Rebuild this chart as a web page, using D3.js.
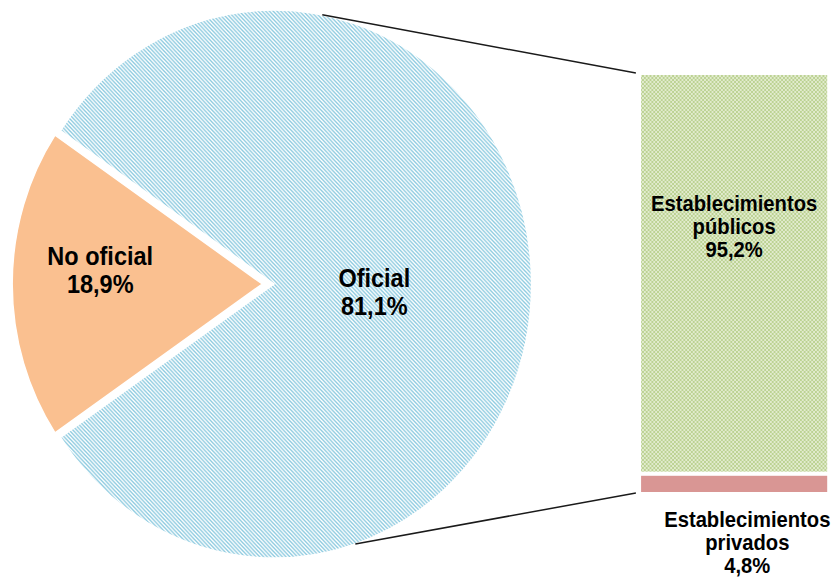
<!DOCTYPE html>
<html>
<head>
<meta charset="utf-8">
<script src="https://d3js.org/d3.v7.min.js"></script>
<style>
	body { margin: 0; background: #fff; }
	text { font-family: "Liberation Sans", Arial, sans-serif; font-weight: bold; fill: #000; }
</style>
</head>
<body>
<div id="my_dataviz"></div>
<script>
// pie data
const pieLabels = ["Oficial", "No oficial"];
const pieValues = [81.1, 18.9];
const pieTexts = ["81,1%", "18,9%"];

// bar data (split of "Oficial")
const barLabels = ["Establecimientos públicos", "Establecimientos privados"];
const barValues = [95.2, 4.8];
const barTexts = ["95,2%", "4,8%"];

// dimensions
const width = 833, height = 581;
const squash = 0.94; // the picture is a bit narrower than tall

const svg = d3.select("#my_dataviz")
	.append("svg")
	.attr("width", width)
	.attr("height", height);

// patterns
const defs = svg.append("defs");
const stripes = defs.append("pattern")
	.attr("id", "stripes")
	.attr("patternUnits", "userSpaceOnUse")
	.attr("width", 4)
	.attr("height", 4);
stripes.append("rect").attr("width", 4).attr("height", 4).attr("fill", "#fff");
stripes.append("path")
	.attr("d", "M-1,-1L5,5M-1,3L1,5M3,-1L5,1")
	.attr("stroke", "#8ecbe0")
	.attr("stroke-width", 1.4);

const checker = defs.append("pattern")
	.attr("id", "checker")
	.attr("patternUnits", "userSpaceOnUse")
	.attr("width", 4)
	.attr("height", 4);
checker.append("rect").attr("width", 4).attr("height", 4).attr("fill", "#e1ebcd");
checker.append("path")
	.attr("d", "M0,0L4,4M4,0L0,4")
	.attr("stroke", "#b3cb84")
	.attr("stroke-width", 0.8);

const root = svg.append("g")
	.attr("transform", `scale(${squash},1)`);

// pie geometry
const cx = 291.5, cy = 284, radius = 274;
const fills = ["url(#stripes)", "#fac090"];
const sliceRadius = [radius, 266];
const explode = [0, 12.5];
const labelPos = [[94.3, 107], [274.8, 173]]; // angle (deg), distance
const lineH = 28;

const a0 = 2 * Math.PI * (0.75 - (pieValues[0] + pieValues[1] / 2) / 100);
const pie = d3.pie().sort(null).startAngle(a0).endAngle(a0 + 2 * Math.PI);
const arcs = pie(pieValues);

const pieG = root.append("g")
	.attr("transform", `translate(${cx},${cy})`);

arcs.forEach(function (d, i) {
	const mid = (d.startAngle + d.endAngle) / 2;
	const ox = Math.sin(mid) * explode[i], oy = -Math.cos(mid) * explode[i];
	const arc = d3.arc().innerRadius(0).outerRadius(sliceRadius[i]);
	const g = pieG.append("g").attr("transform", `translate(${ox},${oy})`);
	g.append("path")
		.attr("d", arc(d))
		.attr("fill", fills[i])
		.attr("stroke", "#fff")
		.attr("stroke-width", 1.5);

	const la = labelPos[i][0] * Math.PI / 180;
	const lx = Math.sin(la) * labelPos[i][1], ly = -Math.cos(la) * labelPos[i][1];
	const t = g.append("text")
		.attr("text-anchor", "middle")
		.style("font-size", "25px");
	t.append("tspan").attr("x", lx).attr("y", ly - 5).text(pieLabels[i]);
	t.append("tspan").attr("x", lx).attr("y", ly - 5 + lineH).text(pieTexts[i]);
});

// bar
const x = d3.scaleLinear().domain([0, 1]).range([680, 882]);
const y = d3.scaleLinear().domain([0, 100]).range([494, 73]);

const stack = [];
let acc = 0;
barValues.slice().reverse().forEach(function (v) {
	stack.push([acc, acc + v]);
	acc += v;
});
stack.reverse(); // [publicos, privados]
const barFills = ["url(#checker)", "#d99694"];

root.selectAll(".seg")
	.data(stack)
	.join("rect")
	.attr("class", "seg")
	.attr("x", x(0))
	.attr("width", x(1) - x(0))
	.attr("y", d => y(d[1]))
	.attr("height", d => y(d[0]) - y(d[1]))
	.attr("fill", (d, i) => barFills[i])
	.attr("stroke", "#fff")
	.attr("stroke-width", 4);

// bar labels
const barFont = 21.5, barLine = 23;
function barLabel(words, value, xc, yTop) {
	const t = root.append("text")
		.attr("text-anchor", "middle")
		.style("font-size", barFont + "px");
	const parts = words.split(" ").concat([value]);
	parts.forEach(function (p, k) {
		t.append("tspan").attr("x", xc).attr("y", yTop + k * barLine).text(p);
	});
}
barLabel(barLabels[0], barTexts[0], (x(0) + x(1)) / 2, y(stack[0][1]) + 138);
barLabel(barLabels[1], barTexts[1], (x(0) + x(1)) / 2 + 14, y(0) + 33);

// connector lines from the pie to the bar
const connAngles = [10.8, 161.6];
const connEnds = [y(100), y(0) - 1];
connAngles.forEach(function (a, i) {
	const r = a * Math.PI / 180;
	root.append("line")
		.attr("x1", cx + Math.sin(r) * radius)
		.attr("y1", cy - Math.cos(r) * radius)
		.attr("x2", x(0) - 3.5)
		.attr("y2", connEnds[i])
		.attr("stroke", "#1a1a1a")
		.attr("stroke-width", 1.5);
});
</script>
</body>
</html>
